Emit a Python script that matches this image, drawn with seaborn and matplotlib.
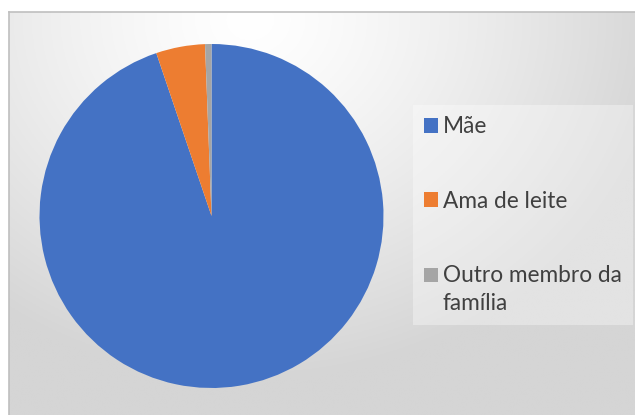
import numpy as np
import matplotlib
matplotlib.use("Agg")
import matplotlib.pyplot as plt
import seaborn as sns
from matplotlib.patches import Rectangle
from matplotlib.legend_handler import HandlerPatch

# Data
categories = ["Mãe", "Ama de leite", "Outro membro da\nfamília"]
values = [94.8, 4.6, 0.6]
colors = ["#4472C4", "#ED7D31", "#A5A5A5"]

sns.set_theme(style="white")
plt.rcParams["font.family"] = ["Lato", "DejaVu Sans"]

W, H = 635, 415
fig = plt.figure(figsize=(W / 100, H / 100), dpi=100)
fig.patch.set_facecolor("white")

# background panel with gradient (chart area)
x0, y0 = 9, 12  # pixel left/top of chart area
bg = fig.add_axes([x0 / W, 0, 1 - x0 / W, 1 - y0 / H], zorder=0)
xs = np.linspace(x0, W, 300)
ys = np.linspace(y0, H, 200)
X, Y = np.meshgrid(xs, ys)
t = np.sqrt(((X - 250) / 420) ** 2 + ((Y - 20) / 360) ** 2)
val = 255 - 42 * np.clip(t, 0, 1) ** 1.3
img = np.dstack([val, val, val]) / 255.0
bg.imshow(img, aspect="auto", extent=[0, 1, 0, 1], origin="upper")
bg.set_xticks([]); bg.set_yticks([])
for s in ["left", "top"]:
    bg.spines[s].set_color("#BFBFBF"); bg.spines[s].set_linewidth(1.2)
for s in ["right", "bottom"]:
    bg.spines[s].set_visible(False)

# pie
cx, cy, r = 211.5, 216, 172
ax = fig.add_axes([(cx - r) / W, (H - cy - r) / H, 2 * r / W, 2 * r / H], zorder=2)
wedges, _ = ax.pie(values, colors=colors, startangle=90, counterclock=False,
                   wedgeprops=dict(linewidth=0))
ax.set_xlim(-1, 1); ax.set_ylim(-1, 1)
ax.set_aspect("equal")
ax.axis("off")

# legend: square handles aligned with the first text line
nlines = {id(w): lab.count("\n") for w, lab in zip(wedges, categories)}


def make_square(legend, orig_handle, xdescent, ydescent, width, height, fontsize):
    off = nlines[id(orig_handle)] * 10.6
    return Rectangle((-xdescent, -ydescent + off), width, height)


handler = HandlerPatch(patch_func=make_square)
leg = fig.legend(wedges, categories, loc="upper left",
                 bbox_to_anchor=(413 / W, 1 - 105 / H),
                 bbox_transform=fig.transFigure, borderaxespad=0,
                 handler_map={w: handler for w in wedges},
                 frameon=True, fontsize=16.3, handlelength=0.6, handleheight=0.6,
                 handletextpad=0.22, labelspacing=2.35, borderpad=0.5,
                 fancybox=False, edgecolor="none", facecolor="white", framealpha=0.35)
for txt in leg.get_texts():
    txt.set_color("#404040")
    txt.set_linespacing(1.4)
leg.set_zorder(3)

fig.savefig("out.png", dpi=100)
